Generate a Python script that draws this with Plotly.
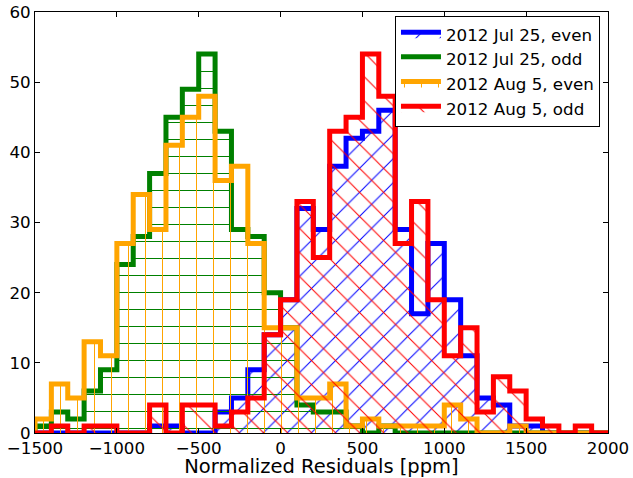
import plotly.graph_objects as go

# Histogram bins: 100 ppm wide, from -1500 to 2000 ppm
bin_edges = list(range(-1500, 2001, 100))

# Counts per bin for each transit set
jul25_even = [0, 0, 0, 0, 0, 0, 0, 1, 1, 0, 0, 3, 5, 9, 14, 19, 32, 29, 38, 42,
              43, 46, 29, 17, 27, 19, 11, 5, 4, 1, 1, 0, 0, 0, 0]
jul25_odd = [1, 3, 2, 6, 9, 24, 28, 37, 45, 49, 54, 43, 29, 28, 20, 15, 4, 3, 3, 1,
             0, 1, 0, 0, 0, 0, 0, 0, 0, 0, 0, 0, 0, 0, 0]
aug5_even = [2, 7, 5, 13, 11, 27, 34, 29, 41, 45, 48, 36, 38, 27, 15, 15, 5, 5, 7, 1,
             2, 1, 1, 1, 1, 4, 2, 0, 0, 1, 0, 0, 0, 0, 0]
aug5_odd = [0, 1, 0, 1, 1, 0, 0, 4, 0, 4, 4, 1, 3, 5, 14, 19, 33, 25, 43, 45,
            54, 48, 27, 33, 19, 11, 15, 3, 8, 6, 2, 1, 0, 1, 0]

series_names = ["2012 Jul 25, even", "2012 Jul 25, odd", "2012 Aug 5, even", "2012 Aug 5, odd"]
series_counts = [jul25_even, jul25_odd, aug5_even, aug5_odd]
series_colors = ["#0000ff", "#008000", "#ffa500", "#ff0000"]
series_hatches = ["/", "-", "|", "\\"]

x_ticks = list(range(-1500, 2001, 500))
y_ticks = list(range(0, 61, 10))

fig = go.Figure()
for name, counts, color, hatch in zip(series_names, series_counts, series_colors, series_hatches):
    # step outline: rise at the first edge, run across each bin, drop at the last edge
    xs = [bin_edges[0]] + bin_edges
    ys = [0] + list(counts) + [0]
    fig.add_trace(go.Scatter(
        x=xs, y=ys, name=name, mode="lines",
        line=dict(color=color, width=5, shape="hv"),
        fill="tozeroy", fillcolor="rgba(0,0,0,0)",
        fillpattern=dict(shape=hatch, fgcolor=color, bgcolor="rgba(0,0,0,0)",
                         size=17, solidity=0.06, fillmode="replace"),
    ))

axis_common = dict(
    ticks="inside", ticklen=5, tickwidth=1, tickcolor="black",
    showline=True, linecolor="black", linewidth=1, mirror="allticks",
    showgrid=False, zeroline=False, automargin=False,
    tickfont=dict(family="DejaVu Sans", size=16.7, color="black"),
)

fig.update_xaxes(range=[-1500, 2000], tickvals=x_ticks, **axis_common,
                 title=dict(text="Normalized Residuals [ppm]",
                            font=dict(family="DejaVu Sans", size=19.5, color="black"),
                            standoff=8))
fig.update_yaxes(range=[0, 60], tickvals=y_ticks, **axis_common)

fig.update_layout(
    width=633, height=478,
    margin=dict(l=35, r=25, t=12, b=45, autoexpand=False),
    paper_bgcolor="white", plot_bgcolor="white",
    font=dict(family="DejaVu Sans", size=16.7, color="black"),
    showlegend=True,
    legend=dict(x=0.986, y=0.991, xanchor="right", yanchor="top",
                bordercolor="black", borderwidth=1, bgcolor="white",
                font=dict(family="DejaVu Sans", size=16.7, color="black"),
                itemwidth=40, tracegroupgap=0),
)

fig.write_html("out.html")
